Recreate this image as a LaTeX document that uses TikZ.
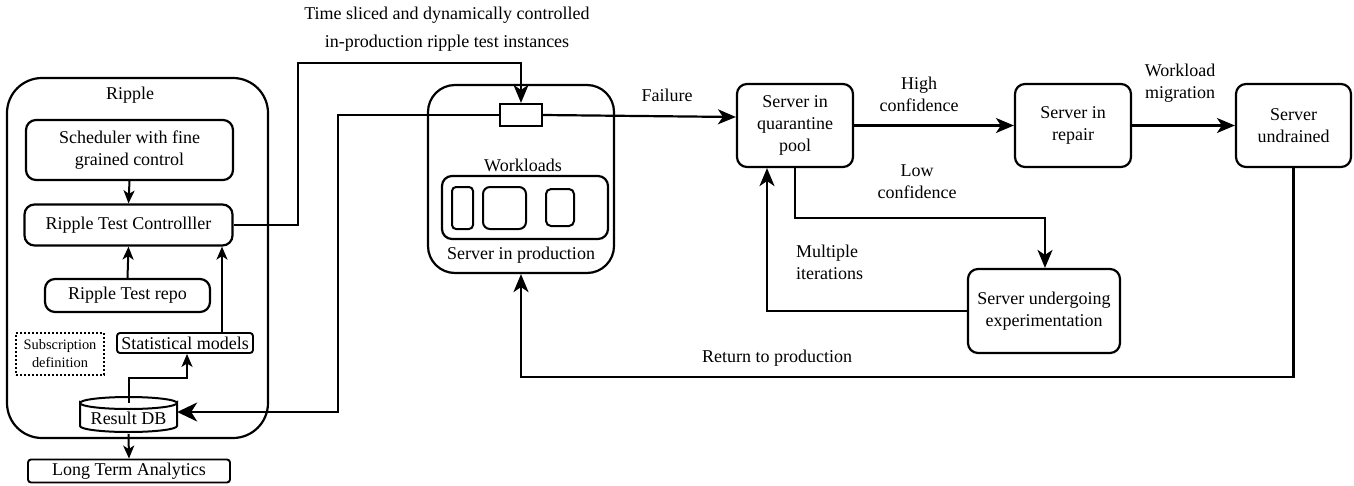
\documentclass[tikz,border=0pt]{standalone}
\usepackage{fontspec}
\setmainfont{Liberation Serif}
\newfontfamily\serf{Liberation Serif}
\usetikzlibrary{arrows.meta}
\begin{document}
\begin{tikzpicture}[x=1pt,y=-1pt,
  every node/.style={font=\serf\fontsize{18}{22}\selectfont, inner sep=0pt},
  box/.style={draw, line width=2.2pt, rounded corners=10pt, align=center},
  tbox/.style={draw, line width=1.9pt, rounded corners=3pt, align=center},
  lbl/.style={align=center},
  conn/.style={line width=2.2pt},
  arr/.style={conn, -{Stealth[length=18pt,width=15pt,inset=5pt]}},
  sarr/.style={line width=2pt, -{Stealth[length=13pt,width=11pt,inset=3.5pt]}},
  barr/.style={conn, -{Stealth[length=20pt,width=19pt,inset=6pt]}}
]
\useasboundingbox (0,0) rectangle (1354,485);
% Ripple
\node[box, rounded corners=35pt, minimum width=261pt, minimum height=360pt] (ripple) at (137.5,258) {};
\node (rippleT) at (130,95) {Ripple};
\node[box, minimum width=207pt, minimum height=60pt] (sched) at (129.5,150) {Scheduler with fine\\grained control};
\node[box, minimum width=208pt, minimum height=41pt] (ctrl) at (128.5,225) {Ripple Test Controlller};
\node[box, minimum width=165pt, minimum height=33pt] (repo) at (127.5,295.5) {Ripple Test repo};
\node[draw, line width=2pt, dotted, minimum width=88pt, minimum height=42pt, align=center,
  font=\serf\fontsize{14.4}{18}\selectfont] (subs) at (60,354) {Subscription\\definition};
\node[tbox, minimum width=136pt, minimum height=20pt] (stat) at (185,343) {Statistical models};
\node[minimum width=97pt, minimum height=22pt] (db) at (128.5,418) {};
\draw[line width=2pt, fill=white] (80,403) -- (80,426) arc[start angle=180, end angle=360, x radius=48.5pt, y radius=6pt] -- (177,403) arc[start angle=0, end angle=-180, x radius=48.5pt, y radius=6pt] -- cycle;
\draw[line width=2pt] (80,403) arc[start angle=180, end angle=360, x radius=48.5pt, y radius=-6pt];
\node (dbT) at (128.5,418) {Result DB};
\node[tbox, minimum width=202pt, minimum height=23pt] (lta) at (129,471) {Long Term Analytics};
% top label
\node[lbl, font=\serf\fontsize{18}{28}\selectfont] (toplbl) at (447,29) {Time sliced and dynamically controlled\\in-production ripple test instances};
% production
\node[box, rounded corners=27pt, minimum width=186pt, minimum height=188pt] (prod) at (521,179) {};
\node[draw, line width=2.2pt, fill=white, minimum width=42pt, minimum height=22pt] (slot) at (521,115) {};
\node (wlT) at (523,165) {Workloads};
\node[box, minimum width=166pt, minimum height=63pt] (wl) at (525,207.5) {};
\node[box, line width=2pt, rounded corners=4pt, minimum width=21pt, minimum height=42pt] (w1) at (462.5,208) {};
\node[box, line width=2pt, rounded corners=7pt, minimum width=43pt, minimum height=42pt] (w2) at (504.5,208) {};
\node[box, line width=2pt, rounded corners=5pt, minimum width=28pt, minimum height=37pt] (w3) at (560,207.5) {};
\node (prodT) at (521,255) {Server in production};
% right side
\node[box, minimum width=116pt, minimum height=83pt] (quar) at (795,125.5) {Server in\\quarantine\\pool};
\node[box, minimum width=116pt, minimum height=83pt] (repair) at (1073,125.5) {Server in\\repair};
\node[box, minimum width=115pt, minimum height=83pt] (undr) at (1293.5,125.5) {Server\\undrained};
\node[box, minimum width=152pt, minimum height=84pt] (exp) at (1044,311) {Server undergoing\\experimentation};
% labels
\node (failL) at (667,95) {Failure};
\node[lbl] (highL) at (919,94) {High\\confidence};
\node[lbl] (migL) at (1180,83) {Workload\\migration};
\node[lbl] (lowL) at (917,181.5) {Low\\confidence};
\node[align=left, anchor=west] (multL) at (796,262) {Multiple\\iterations};
\node (retL) at (777,358) {Return to production};
% connectors in Ripple
\draw[sarr] (sched.south) -- (ctrl.north);
\draw[sarr] (repo.north) -- (ctrl.south);
\draw[sarr] (stat.north -| 222,0) -- (ctrl.south -| 222,0);
\draw[sarr] (db.north) ++(0,-4) -- (128.5,378) -- (187,378) -- (stat.south -| 187,0);
\draw[sarr] (db.south) ++(0,5) -- (lta.north);
% big connectors
\draw[arr] (ctrl.east) -- (298,225) -- (298,63) -- (521,63) -- (slot.north);
\draw[barr] (slot.west) -- (338,115) -- (338,412) -- (db.east |- 0,412);
\draw[arr] (slot.east) -- (quar.west |- 0,117);
\draw[arr] (quar.east) -- (repair.west);
\draw[arr] (repair.east) -- (undr.west);
\draw[arr] (quar.south -| 795,0) -- (795,218) -- (1045,218) -- (exp.north -| 1045,0);
\draw[arr] (exp.west) -- (767,311) -- (quar.south -| 767,0);
\draw[arr] (undr.south) -- (1293.5,377) -- (521,377) -- (prod.south);
\end{tikzpicture}
\end{document}
